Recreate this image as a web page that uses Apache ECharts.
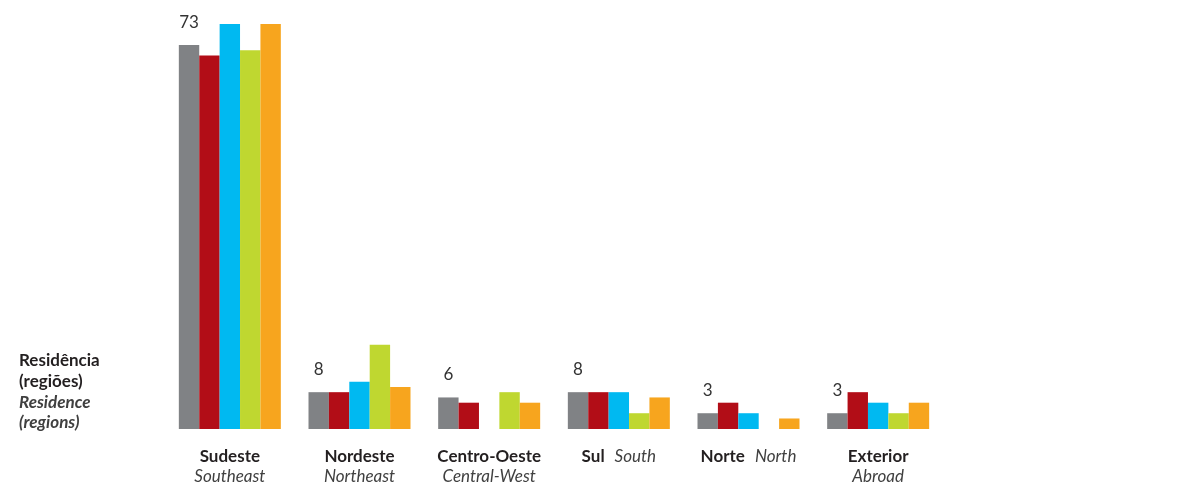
<!DOCTYPE html>
<html>
<head>
<meta charset="utf-8">
<script src="https://cdn.jsdelivr.net/npm/echarts@6/dist/echarts.min.js"></script>
<style>
html,body{margin:0;padding:0;background:#fff;}
#chart{width:1191px;height:487px;}
</style>
</head>
<body>
<div id="chart"></div>
<script>
// Categories (Portuguese / English)
const categoriesPt = ['Sudeste', 'Nordeste', 'Centro-Oeste', 'Sul', 'Norte', 'Exterior'];
const categoriesEn = ['Southeast', 'Northeast', 'Central-West', 'South', 'North', 'Abroad'];
// Categories whose two names are written on one line
const singleLine = ['Sul', 'Norte'];

// Series values
const seriesGray   = [73, 7, 6, 7, 3, 3];
const seriesRed    = [71, 7, 5, 7, 5, 7];
const seriesBlue   = [77, 9, 0, 7, 3, 5];
const seriesGreen  = [72, 16, 7, 3, 0, 3];
const seriesOrange = [77, 8, 5, 6, 2, 5];

// Printed labels above the gray bars
const grayLabels = ['73', '8', '6', '8', '3', '3'];

// Axis title
const titlePt = ['Residência', '(regiões)'];
const titleEn = ['Residence', '(regions)'];

const colors = ['#808285', '#b20d17', '#00b9f1', '#bfd730', '#f7a51e'];
const seriesData = [seriesGray, seriesRed, seriesBlue, seriesGreen, seriesOrange];
const FONT = 'Lato, "Open Sans", sans-serif';

const chart = echarts.init(document.getElementById('chart'), null, {renderer: 'canvas'});

const series = seriesData.map((d, i) => ({
  type: 'bar',
  name: 'S' + (i + 1),
  data: d,
  barWidth: 20.4,
  barGap: '0%',
  itemStyle: {color: colors[i]},
  silent: true,
  label: i === 0 ? {
    show: true,
    position: 'top',
    distance: 14,
    fontFamily: FONT,
    fontSize: 17,
    color: '#333333',
    formatter: p => grayLabels[p.dataIndex]
  } : {show: false}
}));

chart.setOption({
  animation: false,
  textStyle: {fontFamily: FONT},
  title: {
    left: 19,
    top: 350.5,
    padding: 0,
    text: '{b|' + titlePt.join('}\n{b|') + '}\n{i|' + titleEn.join('}\n{i|') + '}',
    textStyle: {
      rich: {
        b: {fontFamily: FONT, fontWeight: 'bold', fontSize: 17, lineHeight: 20.7, color: '#231f20'},
        i: {fontFamily: FONT, fontStyle: 'italic', fontSize: 17, lineHeight: 20.7, color: '#404040'}
      }
    }
  },
  grid: {left: 165, right: 248, top: 8.2, bottom: 58, containLabel: false},
  xAxis: {
    type: 'category',
    data: categoriesPt,
    axisLine: {show: false},
    axisTick: {show: false},
    axisLabel: {
      margin: 17,
      interval: 0,
      formatter: (v, idx) => {
        const en = categoriesEn[idx];
        if (singleLine.indexOf(v) >= 0) return '{b|' + v + '}{s|}{i|' + en + '}';
        return '{b|' + v + '}\n{i|' + en + '}';
      },
      rich: {
        b: {fontFamily: FONT, fontWeight: 'bold', fontSize: 17, lineHeight: 20.5, color: '#231f20'},
        i: {fontFamily: FONT, fontStyle: 'italic', fontSize: 17, lineHeight: 20.5, color: '#404040'},
        s: {width: 10}
      }
    }
  },
  yAxis: {
    type: 'value',
    min: 0,
    max: 80,
    show: false,
    splitLine: {show: false}
  },
  series: series
});
</script>
</body>
</html>
